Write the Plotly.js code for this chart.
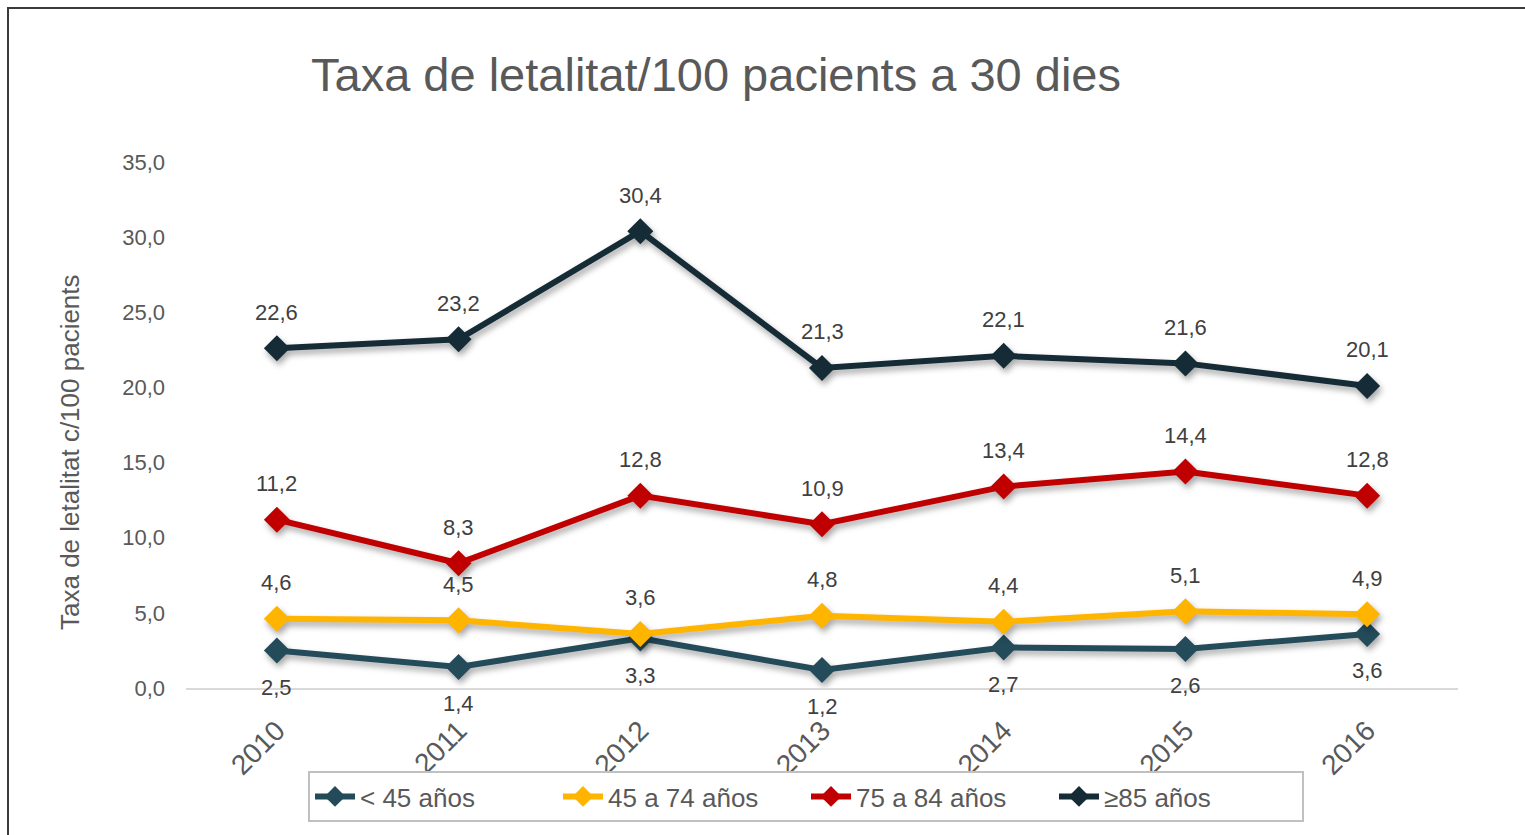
<!DOCTYPE html>
<html>
<head>
<meta charset="utf-8">
<script src="https://cdn.plot.ly/plotly-3.0.1.min.js"></script>
<style>
html,body{margin:0;padding:0;width:1525px;height:835px;overflow:hidden;background:#fff;}
#frame{position:absolute;left:7px;top:7px;width:1700px;height:1000px;border:2px solid #3a3a3a;box-sizing:border-box;pointer-events:none;z-index:5;}
#chart{position:absolute;left:0;top:0;width:1525px;height:835px;}
.scatterlayer .trace{filter:drop-shadow(2px 4px 3px rgba(0,0,0,0.35));}
</style>
</head>
<body>
<div id="chart"></div>
<div id="frame"></div>
<script>
const years = ['2010','2011','2012','2013','2014','2015','2016'];
const seriesNames = ['< 45 años','45 a 74 años','75 a 84 años','≥85 años'];
const under45 = [2.5, 1.4, 3.3, 1.2, 2.7, 2.6, 3.6];
const from45to74 = [4.6, 4.5, 3.6, 4.8, 4.4, 5.1, 4.9];
const from75to84 = [11.2, 8.3, 12.8, 10.9, 13.4, 14.4, 12.8];
const over85 = [22.6, 23.2, 30.4, 21.3, 22.1, 21.6, 20.1];
const colors = ['#244B5A', '#FFB400', '#C00000', '#152B36'];
const labelBelow = [true, false, false, false];

const allSeries = [under45, from45to74, from75to84, over85];
const fmt = v => v.toFixed(1).replace('.', ',');

const traces = allSeries.map((vals, i) => ({
  type: 'scatter',
  mode: 'lines+markers',
  name: seriesNames[i],
  x: years,
  y: vals,
  line: {color: colors[i], width: 6},
  marker: {symbol: 'diamond', size: 20, color: colors[i], line: {width: 0}},
  hoverinfo: 'skip'
}));

const annotations = [];
allSeries.forEach((vals, i) => {
  vals.forEach((v, j) => {
    annotations.push({
      x: j, y: v, xref: 'x', yref: 'y',
      text: fmt(v), showarrow: false,
      yshift: labelBelow[i] ? -37 : 36,
      font: {family: 'Liberation Sans, Arial, sans-serif', size: 22, color: '#404040'}
    });
  });
});
annotations.push({
  xref: 'paper', yref: 'paper',
  x: (70 - 186) / 1272, y: (688 - 452) / 526,
  text: 'Taxa de letalitat c/100 pacients', textangle: -90, showarrow: false,
  xanchor: 'center', yanchor: 'middle',
  font: {family: 'Liberation Sans, Arial, sans-serif', size: 26, color: '#595959'}
});

const layout = {
  width: 1525, height: 835,
  margin: {l: 186, r: 67, t: 162, b: 147},
  paper_bgcolor: '#ffffff', plot_bgcolor: '#ffffff',
  separators: ',.',
  showlegend: true,
  title: {
    text: 'Taxa de letalitat/100 pacients a 30 dies',
    xref: 'container', yref: 'container',
    x: 716 / 1525, xanchor: 'center',
    y: 1 - 75 / 835, yanchor: 'middle',
    automargin: false,
    font: {family: 'Liberation Sans, Arial, sans-serif', size: 47, color: '#595959'}
  },
  xaxis: {
    type: 'category',
    range: [-0.5, years.length - 0.5],
    autorange: false, automargin: false,
    showgrid: false, zeroline: false,
    showline: true, linecolor: '#d9d9d9', linewidth: 2,
    ticks: '', tickangle: -45,
    ticklabelstandoff: 13,
    tickfont: {family: 'Liberation Sans, Arial, sans-serif', size: 28, color: '#595959'},
    fixedrange: true
  },
  yaxis: {
    range: [0, 35], autorange: false, automargin: false, dtick: 5, tick0: 0,
    tickformat: '.1f',
    showgrid: false, zeroline: false, showline: false,
    ticks: '', ticklabelstandoff: 20,
    tickfont: {family: 'Liberation Sans, Arial, sans-serif', size: 22, color: '#595959'},
    fixedrange: true
  },
  legend: {
    orientation: 'h',
    xref: 'container', yref: 'container',
    x: 806 / 1525, xanchor: 'center',
    y: 1 - 771 / 835, yanchor: 'top',
    bordercolor: '#c0c0c0', borderwidth: 2,
    bgcolor: '#ffffff',
    font: {family: 'Liberation Sans, Arial, sans-serif', size: 26, color: '#595959'},
    itemwidth: 40,
    entrywidth: 193,
    entrywidthmode: 'pixels',
    tracegroupgap: 0,
    traceorder: 'normal'
  },
  annotations: annotations
};

Plotly.newPlot('chart', traces, layout, {displayModeBar: false, staticPlot: true});
</script>
</body>
</html>
